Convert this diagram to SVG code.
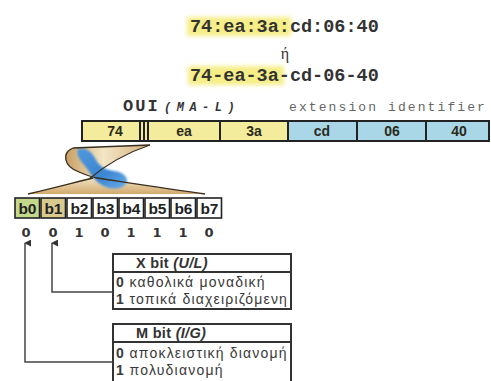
<svg xmlns="http://www.w3.org/2000/svg" width="491" height="381" viewBox="0 0 491 381">
  <defs>
    <style>
      .mono { font-family: "Liberation Mono", "DejaVu Sans Mono", monospace; font-weight: bold; fill: #333; }
      .cell { font-family: "Liberation Sans", Arial, sans-serif; font-weight: bold; font-size: 14px; fill: #2b2b1c; text-anchor: middle; }
      .bitlbl { font-family: "Liberation Sans", Arial, sans-serif; font-weight: bold; font-size: 15.5px; fill: #222; text-anchor: middle; letter-spacing: -0.3px; }
      .bitval { font-family: "DejaVu Sans", Verdana, sans-serif; font-weight: bold; font-size: 13px; fill: #333; text-anchor: middle; }
      .box { fill: #fff; stroke: #333; stroke-width: 2; }
      .boxtxt { font-family: "Liberation Sans", Arial, sans-serif; font-size: 14px; letter-spacing: 1.2px; fill: #3a3a3a; }
      .boxhead { font-family: "Liberation Sans", Arial, sans-serif; font-size: 14.5px; font-weight: bold; fill: #333; letter-spacing: 0.3px; }
      .wire { fill: none; stroke: #444; stroke-width: 1.5; }
      .edge { fill: none; stroke: #3a2e1e; stroke-width: 1.3; }
    </style>
    <marker id="arrow" viewBox="0 0 8 8" refX="4" refY="1" markerWidth="7" markerHeight="7" markerUnits="userSpaceOnUse" orient="auto-start-reverse">
      <path d="M0,8 L4,0 L8,8 Z" fill="#333"/>
    </marker>
    <filter id="soft" x="-20%" y="-50%" width="140%" height="200%">
      <feGaussianBlur stdDeviation="2"/>
    </filter>
    <filter id="softer" x="-30%" y="-30%" width="160%" height="160%">
      <feGaussianBlur stdDeviation="1.2"/>
    </filter>
    <linearGradient id="tan" x1="0" y1="0" x2="1" y2="0">
      <stop offset="0" stop-color="#c79e62"/>
      <stop offset="0.45" stop-color="#f3e6c6"/>
      <stop offset="1" stop-color="#d3b07a"/>
    </linearGradient>
    <linearGradient id="tanfan" x1="0" y1="0" x2="0" y2="1">
      <stop offset="0" stop-color="#f3e6c8"/>
      <stop offset="1" stop-color="#d2aa6e"/>
    </linearGradient>
    <linearGradient id="blue" x1="0" y1="0" x2="1" y2="1">
      <stop offset="0" stop-color="#4f97dc"/>
      <stop offset="0.6" stop-color="#3b86d4"/>
      <stop offset="1" stop-color="#6aaee6"/>
    </linearGradient>
  </defs>

  <rect width="491" height="381" fill="#fff"/>

  <!-- address written two ways -->
  <g id="address">
    <rect x="187" y="17" width="104" height="19" fill="#f4ec7a" filter="url(#soft)" opacity="0.9"/>
    <rect x="188" y="66" width="96" height="19" fill="#f4ec7a" filter="url(#soft)" opacity="0.9"/>
    <text class="mono" x="190" y="32" font-size="18.5">74:ea:3a:cd:06:40</text>
    <text x="285" y="59" font-family="Liberation Serif, serif" font-size="16" fill="#333" text-anchor="middle">ή</text>
    <text class="mono" x="190" y="81" font-size="18.5">74-ea-3a-cd-06-40</text>
  </g>

  <!-- field captions -->
  <g id="captions">
    <text class="mono" x="123" y="111" font-size="17" letter-spacing="2">OUI</text>
    <text class="mono" x="164" y="111" font-size="12" font-style="italic" letter-spacing="5.5" font-weight="normal">(MA-L)</text>
    <text x="289" y="111" font-family="Liberation Mono, monospace" font-size="13" letter-spacing="2.1" fill="#666">extension identifier</text>
  </g>

  <!-- six byte cells -->
  <g id="byte-bar">
    <rect x="82" y="121" width="138" height="20" fill="#f2ec9c"/>
    <rect x="220" y="121" width="68" height="20" fill="#f2ec9c"/>
    <rect x="288" y="121" width="201" height="20" fill="#a9d7e8"/>
    <rect x="82" y="121" width="407" height="20" fill="none" stroke="#222" stroke-width="2"/>
    <g stroke="#222" stroke-width="2">
      <line x1="140" y1="121" x2="140" y2="141"/>
      <line x1="144" y1="121" x2="144" y2="141"/>
      <line x1="148" y1="121" x2="148" y2="141"/>
      <line x1="220" y1="121" x2="220" y2="141"/>
      <line x1="288" y1="121" x2="288" y2="141"/>
      <line x1="357" y1="121" x2="357" y2="141"/>
      <line x1="426" y1="121" x2="426" y2="141"/>
    </g>
    <text class="cell" x="115" y="136">74</text>
    <text class="cell" x="184" y="136">ea</text>
    <text class="cell" x="254" y="136">3a</text>
    <text class="cell" x="322" y="136">cd</text>
    <text class="cell" x="392" y="136">06</text>
    <text class="cell" x="459" y="136">40</text>
  </g>

  <!-- twisted ribbon expanding the first byte into bits -->
  <g id="expand">
    <path d="M73,148 L150,145 C126,153 108,162 95,176 C84,176 72,170 67,162 C63,155 66,149 73,148 Z" fill="url(#tan)"/>
    <path d="M28,194 C58,187 78,181 95,177 C128,183 168,189 205,194 Z" fill="url(#tanfan)"/>
    <path d="M78,149 C86,147 92,152 96,160 C100,167 106,170 114,171 C122,172 128,176 127,182 C124,189 114,190 106,187 C98,184 92,177 88,170 C83,163 75,156 78,149 Z" fill="url(#blue)" filter="url(#softer)"/>
    <path class="edge" d="M73,148 L150,145"/>
    <path class="edge" d="M73,148 C62,153 63,166 79,172 C86,175 92,177 97,178"/>
    <path class="edge" d="M150,145 C126,153 108,163 89,179"/>
    <path class="edge" d="M28,194 C58,187 76,182 93,178"/>
    <path class="edge" d="M97,178 C130,183 168,189 205,194"/>
  </g>

  <!-- bits of the first byte -->
  <g id="bits">
    <rect x="15" y="198" width="24.5" height="20" fill="#c3d88a" stroke="#222" stroke-width="1.6"/>
    <rect x="41" y="198" width="24.5" height="20" fill="#d8c98e" stroke="#222" stroke-width="1.6"/>
    <rect x="67" y="198" width="24.5" height="20" fill="#fff" stroke="#222" stroke-width="1.6"/>
    <rect x="93" y="198" width="24.5" height="20" fill="#fff" stroke="#222" stroke-width="1.6"/>
    <rect x="119" y="198" width="24.5" height="20" fill="#fff" stroke="#222" stroke-width="1.6"/>
    <rect x="145" y="198" width="24.5" height="20" fill="#fff" stroke="#222" stroke-width="1.6"/>
    <rect x="171" y="198" width="24.5" height="20" fill="#fff" stroke="#222" stroke-width="1.6"/>
    <rect x="197" y="198" width="24.5" height="20" fill="#fff" stroke="#222" stroke-width="1.6"/>
    <text class="bitlbl" x="27.3" y="213.5">b0</text>
    <text class="bitlbl" x="53.3" y="213.5">b1</text>
    <text class="bitlbl" x="79.3" y="213.5">b2</text>
    <text class="bitlbl" x="105.3" y="213.5">b3</text>
    <text class="bitlbl" x="131.3" y="213.5">b4</text>
    <text class="bitlbl" x="157.3" y="213.5">b5</text>
    <text class="bitlbl" x="183.3" y="213.5">b6</text>
    <text class="bitlbl" x="209.3" y="213.5">b7</text>
  </g>

  <g id="bit-values">
    <text class="bitval" x="26" y="237">0</text>
    <text class="bitval" x="53" y="237">0</text>
    <text class="bitval" x="79" y="237">1</text>
    <text class="bitval" x="105" y="237">0</text>
    <text class="bitval" x="131" y="237">1</text>
    <text class="bitval" x="157" y="237">1</text>
    <text class="bitval" x="183" y="237">1</text>
    <text class="bitval" x="209" y="237">0</text>
  </g>

  <!-- X bit legend -->
  <g id="x-bit">
    <rect class="box" x="113" y="254" width="178" height="55"/>
    <line x1="113" y1="272" x2="291" y2="272" stroke="#333" stroke-width="2"/>
    <text class="boxhead" x="136" y="268">X bit <tspan font-style="italic">(U/L)</tspan></text>
    <text class="boxtxt" x="116" y="287"><tspan font-weight="bold">0</tspan><tspan x="129.5">καθολικά μοναδική</tspan></text>
    <text class="boxtxt" x="116" y="304"><tspan font-weight="bold">1</tspan><tspan x="129.5">τοπικά διαχειριζόμενη</tspan></text>
  </g>

  <!-- M bit legend -->
  <g id="m-bit">
    <rect class="box" x="113" y="324" width="178" height="62"/>
    <line x1="113" y1="342" x2="291" y2="342" stroke="#333" stroke-width="2"/>
    <text class="boxhead" x="136" y="338">M bit <tspan font-style="italic">(I/G)</tspan></text>
    <text class="boxtxt" x="116" y="358"><tspan font-weight="bold">0</tspan><tspan x="129.5">αποκλειστική διανομή</tspan></text>
    <text class="boxtxt" x="116" y="375"><tspan font-weight="bold">1</tspan><tspan x="129.5">πολυδιανομή</tspan></text>
  </g>

  <!-- leader lines from legends up to b1 and b0 -->
  <g id="connectors">
    <path class="wire" d="M113,292 H52 V243" marker-end="url(#arrow)"/>
    <path class="wire" d="M113,362 H25 V243" marker-end="url(#arrow)"/>
  </g>
</svg>
